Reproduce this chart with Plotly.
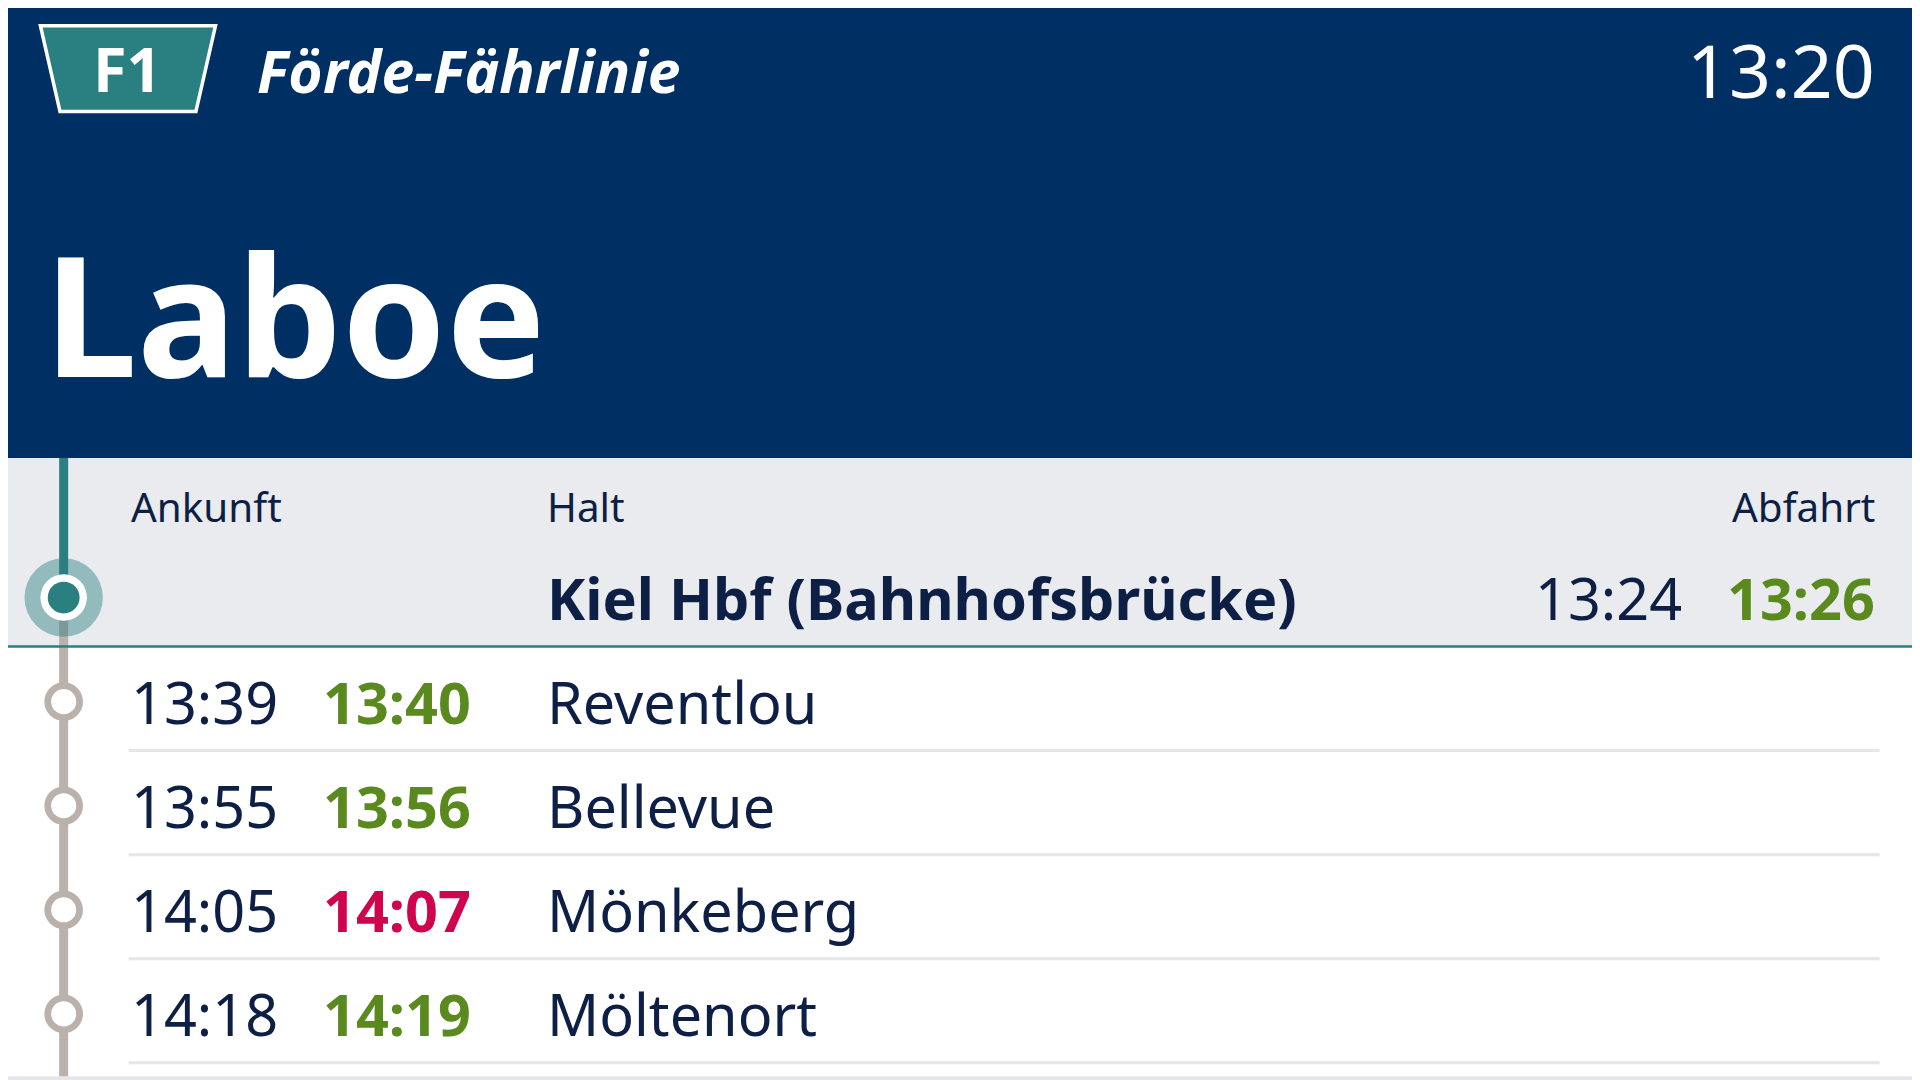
import plotly.graph_objects as go

line_name = "F1"
line_title = "Förde-Fährlinie"
clock = "13:20"
destination = "Laboe"
col_headers = ["Ankunft", "Halt", "Abfahrt"]
current_stop = "Kiel Hbf (Bahnhofsbrücke)"
current_dep_plan = "13:24"
current_dep_real = "13:26"
stops = ["Reventlou", "Bellevue", "Mönkeberg", "Möltenort"]
arr_plan = ["13:39", "13:55", "14:05", "14:18"]
arr_real = ["13:40", "13:56", "14:07", "14:19"]
arr_late = [False, False, True, False]

W, H = 1568, 882
S = 1920 / W
OFF = 8 / S  # compensate page body margin
NAVY = "#002f63"; TXT = "#0d1f45"; TEAL = "#2a7f80"; GRAY = "#bab1aa"
GREEN = "#5a8a1e"; RED = "#d0034f"; BAND = "#e9ebee"
FONT = "Noto Sans"

fig = go.Figure()
shapes = [
    dict(type="rect", x0=0, x1=W, y0=0, y1=H, fillcolor="#e4e6ea", line_width=0, layer="below"),
    dict(type="rect", x0=3, x1=W-3, y0=3, y1=H-3, fillcolor="white", line_width=0, layer="below"),
    dict(type="rect", x0=3, x1=W-3, y0=3, y1=374, fillcolor=NAVY, line_width=0, layer="below"),
    dict(type="rect", x0=3, x1=W-3, y0=374, y1=528, fillcolor=BAND, line_width=0, layer="below"),
    dict(type="line", x0=3, x1=W-3, y0=528, y1=528, line=dict(color=TEAL, width=2.5)),
    dict(type="path", path="M 33 21 L 176 21 L 160 91 L 49 91 Z", fillcolor=TEAL,
         line=dict(color="white", width=3.5)),
    dict(type="line", x0=52, x1=52, y0=374, y1=488, line=dict(color=TEAL, width=9), layer="below"),
    dict(type="line", x0=52, x1=52, y0=488, y1=879, line=dict(color=GRAY, width=9), layer="below"),
]
row_y = [573 + 85 * i for i in range(len(stops))]
for y in row_y:
    shapes.append(dict(type="line", x0=105, x1=1535, y0=y + 40, y1=y + 40,
                       line=dict(color="#e4e6ea", width=3)))
shapes.append(dict(type="circle", x0=20, x1=84, y0=456, y1=520, fillcolor="rgba(42,127,128,0.45)", line_width=0))
shapes.append(dict(type="circle", x0=33, x1=71, y0=469, y1=507, fillcolor="white", line_width=0))
shapes.append(dict(type="circle", x0=39, x1=65, y0=475, y1=501, fillcolor=TEAL, line_width=0))
fig.add_trace(go.Scatter(x=[52] * len(row_y), y=row_y, mode="markers", hoverinfo="skip",
                         marker=dict(size=26 * S, color="white", line=dict(color=GRAY, width=5.5 * S))))

ann = []
def t(x, y, text, size, color=TXT, anchor="left", bold=False, italic=False):
    if bold: text = f"<b>{text}</b>"
    if italic: text = f"<i>{text}</i>"
    ann.append(dict(x=x, y=y, xref="x", yref="y", text=text, showarrow=False, xanchor=anchor,
                    yanchor="middle", font=dict(family=FONT, size=size * S, color=color)))

t(104.5, 56, line_name, 50, "white", "center", bold=True)
t(208, 57, line_title, 48, "white", bold=True, italic=True)
t(1533, 57, clock, 60, "white", "right")
t(34, 255, destination, 136, "white", bold=True)
t(105, 414, col_headers[0], 33)
t(445, 414, col_headers[1], 33)
t(1533, 414, col_headers[2], 33, anchor="right")
t(445, 488, current_stop, 47, bold=True)
t(1375, 488, current_dep_plan, 47, anchor="right")
t(1533, 488, current_dep_real, 47, GREEN, "right", bold=True)
for y, s, p, r, late in zip(row_y, stops, arr_plan, arr_real, arr_late):
    t(105, y, p, 47)
    t(262, y, r, 47, RED if late else GREEN, bold=True)
    t(445, y, s, 47)

fig.update_layout(width=1920, height=1080, margin=dict(l=0, r=0, t=0, b=0),
                  paper_bgcolor="white", plot_bgcolor="white", showlegend=False,
                  shapes=shapes, annotations=ann,
                  xaxis=dict(range=[OFF, W + OFF], visible=False, fixedrange=True),
                  yaxis=dict(range=[H + OFF, OFF], visible=False, fixedrange=True))
fig.write_html("out.html", config={"displayModeBar": False})
